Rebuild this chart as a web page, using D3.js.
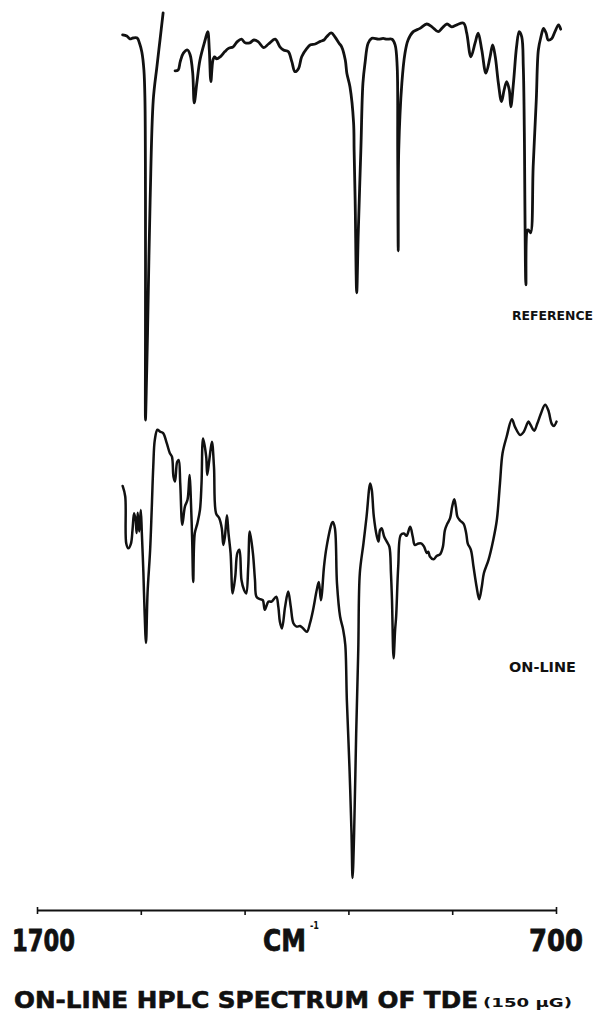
<!DOCTYPE html>
<html>
<head>
<meta charset="utf-8">
<script src="https://cdn.jsdelivr.net/npm/d3@7"></script>
<style>
  html, body { margin: 0; padding: 0; background: #fff; }
  svg { display: block; }
</style>
</head>
<body>
<svg id="chart" width="596" height="1016"></svg>
<script>
// ---- Spectral data: wavenumber (cm-1) and transmittance (%) ----

// Reference spectrum, first pen stroke (strong band near 1490 cm-1)
const refBandWn = [1535, 1527, 1521, 1515, 1507, 1502, 1498, 1494, 1492, 1491, 1491, 1491,
                   1489, 1487, 1482, 1476, 1469, 1463, 1457];
const refBandT  = [96.3, 96.0, 95.3, 95.5, 95.5, 94.0, 92.0, 87.5, 80.0, 55.0, 22.5, 0.0,
                   10.0, 21.8, 55.0, 80.0, 88.3, 95.0, 101.8];

// Reference spectrum, main trace
const refWn = [1434, 1428, 1424, 1418, 1410, 1405, 1400, 1397, 1392, 1386, 1376, 1371, 1368, 1365,
               1361, 1358, 1354, 1347, 1338, 1331, 1322, 1314, 1306, 1299, 1290, 1282, 1274, 1263,
               1254, 1241, 1232, 1225, 1216, 1209, 1203, 1196, 1190, 1180, 1173, 1164, 1155, 1147,
               1142, 1133, 1126, 1118, 1113, 1106, 1103, 1097, 1090, 1089, 1087, 1084, 1081, 1076,
               1072, 1068, 1062, 1055, 1042, 1033, 1026, 1016, 1010, 1006, 1005, 1004, 1003, 997,
               991, 985, 975, 962, 949, 939, 927, 920, 910, 901, 891, 878, 872, 864, 856, 850, 843,
               835, 827, 822, 817, 811, 805, 800, 795, 790, 787, 782, 776, 771, 766, 763, 761, 760,
               758, 755, 753, 749, 744, 738, 734, 729, 724, 719, 715, 708, 702, 695, 691];
const refT  = [87.3, 87.5, 89.6, 91.7, 92.5, 91.3, 86.8, 79.3, 84.3, 90.0, 95.0, 97.1, 92.5, 84.6,
               90.0, 90.8, 90.3, 90.8, 92.1, 92.9, 93.3, 94.6, 95.2, 94.3, 94.3, 95.0, 94.6, 93.1,
               94.0, 95.2, 93.3, 92.5, 92.1, 89.6, 87.1, 87.9, 90.8, 92.9, 93.8, 94.0, 94.6, 95.0,
               95.8, 96.8, 95.8, 94.2, 93.3, 90.0, 86.7, 83.3, 74.3, 67.5, 55.0, 31.8, 46.8, 67.5,
               84.2, 89.2, 94.2, 95.4, 95.2, 95.4, 95.2, 95.2, 93.8, 88.3, 67.5, 42.3, 67.5, 84.2,
               91.7, 95.0, 97.1, 97.9, 99.0, 98.3, 97.1, 97.9, 99.0, 98.3, 98.8, 99.2, 96.7, 90.8,
               94.2, 96.7, 92.5, 86.7, 90.8, 93.8, 90.8, 84.2, 79.6, 82.5, 84.6, 82.5, 78.3, 84.2,
               93.3, 97.1, 95.8, 88.3, 71.8, 55.0, 33.8, 47.5, 47.5, 46.8, 63.3, 80.0, 92.5, 95.8,
               97.9, 96.7, 95.0, 95.4, 97.1, 98.8, 97.7];

// On-line HPLC spectrum
const onlineWn = [1535, 1530, 1528, 1524, 1519, 1516, 1513, 1510, 1508, 1506, 1503, 1500, 1498, 1495,
                  1493, 1490, 1487, 1482, 1479, 1476, 1473, 1468, 1463, 1457, 1450, 1444, 1440, 1437,
                  1434, 1430, 1427, 1424, 1420, 1415, 1410, 1406, 1404, 1401, 1399, 1396, 1391, 1386,
                  1383, 1380, 1374, 1372, 1368, 1363, 1359, 1355, 1349, 1344, 1341, 1338, 1334, 1331,
                  1327, 1323, 1318, 1314, 1310, 1306, 1301, 1297, 1293, 1290, 1284, 1280, 1277, 1270,
                  1265, 1261, 1254, 1248, 1239, 1235, 1232, 1228, 1222, 1216, 1211, 1206, 1200, 1193,
                  1187, 1180, 1174, 1168, 1161, 1157, 1153, 1151, 1147, 1142, 1132, 1130, 1126, 1122,
                  1116, 1110, 1106, 1103, 1098, 1094, 1092, 1089, 1085, 1081, 1078, 1071, 1065, 1058,
                  1055, 1051, 1045, 1042, 1039, 1036, 1031, 1026, 1021, 1018, 1016, 1013, 1010, 1008,
                  1004, 999, 993, 988, 981, 976, 972, 965, 959, 954, 949, 946, 943, 936, 930, 923, 918,
                  914, 909, 904, 900, 896, 893, 890, 885, 878, 873, 870, 864, 859, 853, 848, 843, 839,
                  830, 821, 814, 808, 803, 795, 785, 779, 769, 762, 753, 749, 742, 736, 729, 721, 715,
                  708, 704, 699];
const onlineT  = [82.1, 79.9, 70.1, 69.1, 70.1, 72.9, 76.4, 75.0, 72.3, 76.5, 72.6, 77.1, 72.3, 64.0,
                  56.9, 49.4, 59.8, 68.8, 77.1, 86.1, 91.7, 93.8, 93.4, 93.1, 91.0, 88.9, 88.2, 84.0,
                  83.0, 87.1, 87.5, 82.6, 74.0, 77.8, 79.2, 84.4, 80.6, 70.8, 62.1, 72.2, 74.3, 77.1,
                  82.6, 92.0, 88.2, 84.4, 87.5, 91.3, 86.1, 76.4, 75.4, 73.3, 69.8, 71.5, 76.0, 72.2,
                  68.1, 59.7, 63.2, 68.1, 68.8, 62.5, 60.4, 59.7, 65.3, 72.6, 68.1, 62.5, 59.0, 58.5,
                  58.3, 56.3, 58.0, 58.0, 59.0, 56.9, 53.8, 52.4, 56.9, 60.1, 56.9, 53.5, 52.8, 52.9,
                  52.4, 51.7, 53.5, 56.3, 60.4, 62.1, 58.3, 59.7, 65.3, 69.4, 74.3, 74.6, 73.3, 61.8,
                  54.9, 52.1, 49.0, 37.5, 23.6, 9.7, 0.4, 9.7, 30.6, 47.9, 63.9, 70.1, 75.7, 82.6,
                  81.3, 75.7, 71.5, 70.5, 72.9, 73.3, 71.5, 70.5, 69.4, 63.9, 58.3, 46.2, 52.1, 54.9,
                  65.3, 71.9, 72.2, 71.7, 73.6, 71.5, 69.8, 70.1, 70.1, 69.4, 68.1, 68.4, 67.4, 66.8,
                  67.5, 67.9, 69.4, 72.9, 74.3, 75.4, 77.8, 79.3, 77.8, 75.7, 74.9, 74.2, 72.2, 70.1,
                  68.8, 65.3, 61.1, 58.5, 61.1, 63.9, 66.7, 70.8, 75.0, 82.6, 88.9, 92.4, 96.0, 94.4,
                  92.7, 93.4, 95.5, 94.8, 93.6, 95.1, 97.2, 99.0, 97.9, 95.0, 94.6, 95.5];

// Wavenumber axis
const axisTicks  = [1700, 1500, 1300, 1100, 900, 700];
const tickLabels = ["1700", "700"];
const axisTitle  = "CM";
const axisTitleExp = "-1";

// Trace labels and caption
const refLabel    = "REFERENCE";
const onlineLabel = "ON-LINE";
const caption     = "ON-LINE HPLC SPECTRUM OF TDE";
const captionNote = "(150 µG)";

// ---- Drawing ----
const svg = d3.select("#chart");
const ink = "#111";
const boldFont = "'DejaVu Sans', 'Liberation Sans', sans-serif";

const x = d3.scaleLinear().domain([1700, 700]).range([37, 556]);
const yRef = d3.scaleLinear().domain([0, 100]).range([420, 20]);
const yOnline = d3.scaleLinear().domain([0, 100]).range([880, 400]);

function trace(wn, t, y) {
  const pts = wn.map((w, i) => [w, t[i]]);
  return d3.line()
    .x(d => x(d[0]))
    .y(d => y(d[1]))
    .curve(d3.curveCatmullRom.alpha(0.5))(pts);
}

const traces = svg.append("g")
  .attr("fill", "none")
  .attr("stroke", ink)
  .attr("stroke-linejoin", "round")
  .attr("stroke-linecap", "round");

traces.append("path").attr("d", trace(refBandWn, refBandT, yRef)).attr("stroke-width", 2.8);
traces.append("path").attr("d", trace(refWn, refT, yRef)).attr("stroke-width", 2.8);
traces.append("path").attr("d", trace(onlineWn, onlineT, yOnline)).attr("stroke-width", 2.5);

// Axis along the bottom
const axisY = 910;
const axis = d3.axisBottom(x)
  .tickValues(axisTicks)
  .tickSize(5)
  .tickSizeOuter(0)
  .tickFormat("");

const gAxis = svg.append("g")
  .attr("transform", `translate(0,${axisY})`)
  .call(axis);
gAxis.select(".domain").attr("stroke", ink).attr("stroke-width", 2);
gAxis.selectAll(".tick line").attr("stroke", ink).attr("stroke-width", 1.6);
// end caps straddle the line
gAxis.selectAll(".tick line")
  .filter(d => d === 1700 || d === 700)
  .attr("y1", -3).attr("y2", 4);

// Bold text helper
function boldText(px, py, size, len, str) {
  return svg.append("text")
    .attr("x", px).attr("y", py)
    .attr("font-family", boldFont).attr("font-weight", "bold")
    .attr("font-size", size)
    .attr("textLength", len).attr("lengthAdjust", "spacingAndGlyphs")
    .attr("fill", ink)
    .text(str);
}

// Axis end labels, centred near their ticks
boldText(x(1700) - 25, 951, 30, 63, tickLabels[0]).attr("stroke", ink).attr("stroke-width", 0.8);
boldText(x(700) - 27, 951, 30, 54, tickLabels[1]).attr("stroke", ink).attr("stroke-width", 0.8);

// Axis unit: narrow glyphs stretched vertically to the label height
svg.append("text")
  .attr("transform", "translate(263,951) scale(1,1.2)")
  .attr("font-family", boldFont).attr("font-weight", "bold")
  .attr("font-size", 25)
  .attr("textLength", 43).attr("lengthAdjust", "spacingAndGlyphs")
  .attr("stroke", ink).attr("stroke-width", 0.7)
  .attr("fill", ink)
  .text(axisTitle);
boldText(310, 929, 10, 9, axisTitleExp);

// Trace labels
boldText(512, 320, 12.5, 81, refLabel);
boldText(509, 672, 14, 67, onlineLabel);

// Caption
boldText(14, 1008, 23, 464, caption).attr("stroke", ink).attr("stroke-width", 0.6);
boldText(483, 1007, 13, 89, captionNote);
</script>
</body>
</html>
